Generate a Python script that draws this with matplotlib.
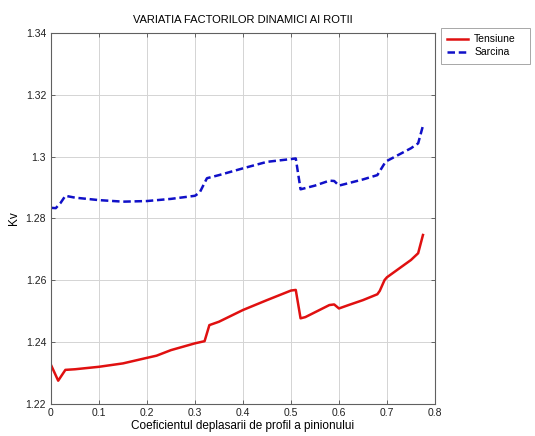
import matplotlib
matplotlib.use("Agg")
import matplotlib.pyplot as plt
import numpy as np

plt.rcParams['font.family'] = ['Liberation Sans', 'DejaVu Sans']

# coeficientul deplasarii de profil x1
x_tens = [0, 0.015, 0.03, 0.05, 0.1, 0.15, 0.2, 0.22, 0.25, 0.3, 0.32, 0.33, 0.35,
          0.4, 0.45, 0.5, 0.51, 0.52, 0.53, 0.58, 0.59, 0.6, 0.62, 0.65, 0.68,
          0.685, 0.695, 0.7, 0.75, 0.765, 0.775]
kv_tens = [1.2325, 1.2274, 1.2309, 1.2311, 1.2319, 1.2330, 1.2348, 1.2355, 1.2373,
           1.2395, 1.2402, 1.2454, 1.2465, 1.2503, 1.2535, 1.2566, 1.2568, 1.2476,
           1.2480, 1.2519, 1.2521, 1.2508, 1.2519, 1.2535, 1.2554, 1.2565, 1.2600,
           1.2609, 1.2665, 1.2687, 1.2746]

x_sarc = [0, 0.01, 0.02, 0.03, 0.05, 0.1, 0.15, 0.2, 0.25, 0.3, 0.31, 0.32, 0.325,
          0.35, 0.4, 0.45, 0.5, 0.51, 0.52, 0.55, 0.58, 0.59, 0.6, 0.65, 0.68,
          0.695, 0.7, 0.75, 0.765, 0.775]
kv_sarc = [1.2834, 1.2833, 1.2850, 1.2873, 1.2867, 1.2859, 1.2854, 1.2856, 1.2863,
           1.2873, 1.2884, 1.2915, 1.2930, 1.2940, 1.2962, 1.2983, 1.2992, 1.2994,
           1.2894, 1.2906, 1.2922, 1.2921, 1.2906, 1.2926, 1.2940, 1.2978, 1.2986,
           1.3027, 1.3043, 1.3100]

xticks = [0, 0.1, 0.2, 0.3, 0.4, 0.5, 0.6, 0.7, 0.8]
yticks = [1.22, 1.24, 1.26, 1.28, 1.3, 1.32, 1.34]

fig = plt.figure(figsize=(5.35, 4.36), dpi=100)
ax = fig.add_axes([0.0953, 0.0745, 0.7177, 0.8495])

ax.plot(x_tens, kv_tens, color='#e01010', lw=1.8, label='Tensiune')
ax.plot(x_sarc, kv_sarc, color='#1010c8', lw=1.8, ls=(0, (3, 1.5)), label='Sarcina')

ax.set_xlim(0, 0.8)
ax.set_ylim(1.22, 1.34)
ax.set_xticks(xticks)
ax.set_yticks(yticks)
ax.set_xticklabels(['%g' % t for t in xticks])
ax.set_yticklabels(['%g' % t for t in yticks])
ax.tick_params(labelsize=7.5, direction='in', length=3, width=0.6,
               top=True, right=True, colors='#505050', labelcolor='#202020')
ax.grid(True, color='#d4d4d4', lw=0.7)
for s in ax.spines.values():
    s.set_linewidth(0.8)
    s.set_color('#606060')

ax.set_xlabel('Coeficientul deplasarii de profil a pinionului', fontsize=8.5, labelpad=1)
ax.set_ylabel('Kv', fontsize=8.5, labelpad=4)
ax.set_title('VARIATIA FACTORILOR DINAMICI AI ROTII', fontsize=8, pad=7)

leg = fig.legend(loc='upper left', bbox_to_anchor=(0.824, 0.936, 0.166, 0.0),
                 mode='expand', borderaxespad=0, fontsize=7.5, frameon=True,
                 fancybox=False, handlelength=2.0, borderpad=0.6,
                 labelspacing=0.3, handletextpad=0.6)
leg.get_frame().set_edgecolor('#909090')
leg.get_frame().set_linewidth(0.7)

fig.savefig('out.png', dpi=100)
